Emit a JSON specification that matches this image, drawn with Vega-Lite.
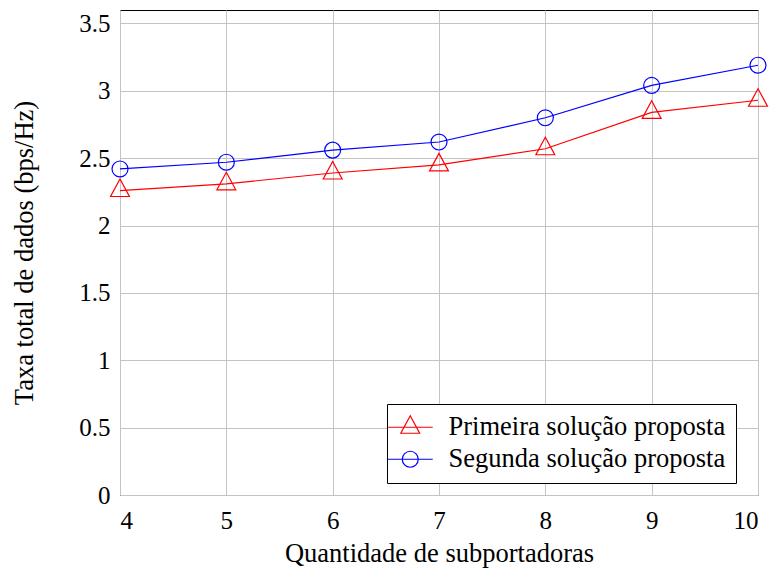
{
  "$schema": "https://vega.github.io/schema/vega-lite/v6.json",
  "width": 638,
  "height": 485,
  "autosize": "none",
  "padding": {"left": 120, "top": 10, "right": 13, "bottom": 75},
  "background": "white",
  "config": {
    "font": "Liberation Serif, Times New Roman, serif",
    "view": {"stroke": "black", "strokeWidth": 1},
    "axis": {
      "labelFont": "Liberation Serif, Times New Roman, serif",
      "titleFont": "Liberation Serif, Times New Roman, serif",
      "labelFontSize": 25,
      "titleFontSize": 26.5,
      "labelColor": "black",
      "titleColor": "black",
      "titleFontWeight": "normal",
      "grid": true,
      "gridColor": "#c4c4c4",
      "gridWidth": 1,
      "domain": false,
      "ticks": false
    }
  },
  "data": {
    "values": [
      {"n": 4, "taxa": 2.26, "serie": "Primeira solução proposta"},
      {"n": 5, "taxa": 2.31, "serie": "Primeira solução proposta"},
      {"n": 6, "taxa": 2.39, "serie": "Primeira solução proposta"},
      {"n": 7, "taxa": 2.45, "serie": "Primeira solução proposta"},
      {"n": 8, "taxa": 2.57, "serie": "Primeira solução proposta"},
      {"n": 9, "taxa": 2.84, "serie": "Primeira solução proposta"},
      {"n": 10, "taxa": 2.93, "serie": "Primeira solução proposta"},
      {"n": 4, "taxa": 2.42, "serie": "Segunda solução proposta"},
      {"n": 5, "taxa": 2.47, "serie": "Segunda solução proposta"},
      {"n": 6, "taxa": 2.56, "serie": "Segunda solução proposta"},
      {"n": 7, "taxa": 2.62, "serie": "Segunda solução proposta"},
      {"n": 8, "taxa": 2.80, "serie": "Segunda solução proposta"},
      {"n": 9, "taxa": 3.04, "serie": "Segunda solução proposta"},
      {"n": 10, "taxa": 3.19, "serie": "Segunda solução proposta"}
    ]
  },
  "encoding": {
    "x": {
      "field": "n",
      "type": "quantitative",
      "scale": {"domain": [4, 10], "nice": false},
      "axis": {
        "values": [4, 5, 6, 7, 8, 9, 10],
        "title": "Quantidade de subportadoras",
        "labelPadding": 13,
        "titlePadding": 7
      }
    },
    "y": {
      "field": "taxa",
      "type": "quantitative",
      "scale": {"domain": [0, 3.6], "nice": false},
      "axis": {
        "values": [0, 0.5, 1, 1.5, 2, 2.5, 3, 3.5],
        "format": "~g",
        "title": "Taxa total de dados (bps/Hz)",
        "labelPadding": 10,
        "titlePadding": 40
      }
    },
    "color": {
      "field": "serie",
      "type": "nominal",
      "scale": {
        "domain": ["Primeira solução proposta", "Segunda solução proposta"],
        "range": ["#ff0000", "#0000ff"]
      },
      "legend": {
        "title": null,
        "orient": "none",
        "legendX": 267,
        "legendY": 394,
        "padding": 10,
        "strokeColor": "black",
        "fillColor": "white",
        "cornerRadius": 0,
        "labelFont": "Liberation Serif, Times New Roman, serif",
        "labelFontSize": 26.5,
        "labelColor": "black",
        "labelLimit": 500,
        "labelOffset": 25,
        "rowPadding": 5,
        "symbolSize": 441,
        "symbolStrokeWidth": 1.2,
        "encode": {
          "symbols": {
            "update": {
              "shape": {"signal": "datum.value === 'Primeira solução proposta' ? 'M-2.14,0L2.14,0M0,-1.1L0.9,0.57L-0.9,0.57Z' : 'M-2.14,0L2.14,0M0.76,0A0.76,0.76 0 1,1 -0.76,0A0.76,0.76 0 1,1 0.76,0Z'"},
              "fill": {"value": "transparent"}
            }
          }
        }
      }
    }
  },
  "layer": [
    {
      "mark": {"type": "line", "strokeWidth": 1.2}
    },
    {
      "transform": [{"filter": "datum.serie === 'Primeira solução proposta'"}],
      "mark": {"type": "point", "filled": false, "size": 441, "strokeWidth": 1.2, "opacity": 1, "shape": "M0,-1.1L0.9,0.57L-0.9,0.57Z"}
    },
    {
      "transform": [{"filter": "datum.serie === 'Segunda solução proposta'"}],
      "mark": {"type": "point", "filled": false, "size": 441, "strokeWidth": 1.2, "opacity": 1, "shape": "M0.76,0A0.76,0.76 0 1,1 -0.76,0A0.76,0.76 0 1,1 0.76,0Z"}
    }
  ]
}
